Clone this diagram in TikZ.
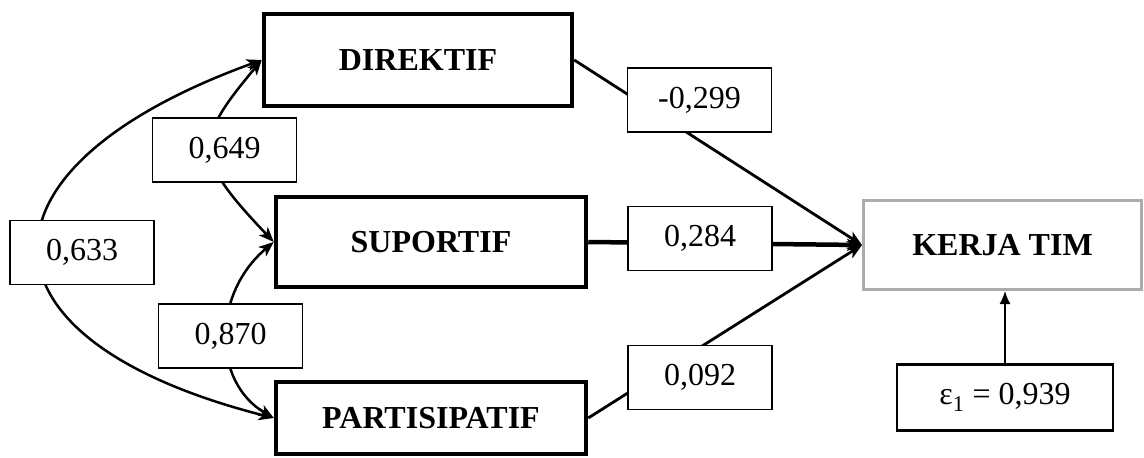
\documentclass[tikz,border=0pt]{standalone}
\usepackage{fontspec}
\setmainfont{Liberation Serif}
\usetikzlibrary{positioning, arrows.meta}
\tikzset{
>={Stealth[length=15pt, width=12pt, inset=4pt]}, % arrow heads of all paths
variabel/.style={draw, line width=4.5pt, inner sep=0pt, font=\fontsize{32}{38}\selectfont\bfseries}, % the three style boxes
koef/.style={draw, fill=white, line width=1.4pt, minimum width=144pt, minimum height=64pt, inner sep=0pt, font=\fontsize{32}{38}\selectfont}, % coefficient labels, drawn over the paths
jalur/.style={->, line width=2.8pt}, % direct paths to the outcome
korelasi/.style={<->, line width=2.5pt}, % correlations between the styles
}

\begin{document}
\begin{tikzpicture}[x=1pt, y=-1pt]
            \useasboundingbox (0,0) rectangle (1144,458);
            \node[variabel, minimum width=308pt, minimum height=92pt] (direktif) at (418,60) {DIREKTIF};
            \node[variabel, minimum width=310pt, minimum height=90pt] (suportif) at (431,242) {SUPORTIF};
            \node[variabel, minimum width=310pt, minimum height=72pt] (partisipatif) at (431,418) {PARTISIPATIF};
            \node[draw=gray!65, line width=3pt, inner sep=0pt, minimum width=278pt, minimum height=89pt, font=\fontsize{32}{38}\selectfont\bfseries] (kerja) at (1002.5,245) {KERJA TIM};
            \node[draw, line width=2.5pt, inner sep=0pt, minimum width=216pt, minimum height=66pt, font=\fontsize{32}{38}\selectfont, below=72pt of kerja, xshift=2.5pt] (galat) {ε\textsubscript{1} = 0,939};
            \draw
                (direktif.east) edge[jalur] (kerja.west)
                (suportif.east) edge[jalur, line width=4.5pt] (kerja.west)
                (partisipatif.east) edge[jalur] (kerja.west)
                ;
            \draw[-{Latex[length=13pt, width=11pt]}, line width=1.8pt] (galat.north) -- (galat.north |- kerja.south);
            \draw[korelasi] (direktif.west) .. controls (-36,168) and (-36,339) .. (partisipatif.west);
            \draw[korelasi] (direktif.west) .. controls (193,142) and (193,157) .. (suportif.west);
            \draw[korelasi] (suportif.west) .. controls (212,294) and (212,382) .. (partisipatif.west);
            \node[koef] (k299) at (699.5,100) {-0,299};
            \node[koef] (k284) at (700,238.5) {0,284};
            \node[koef] (k092) at (700,377.5) {0,092};
            \node[koef] (k649) at (224.5,150) {0,649};
            \node[koef] (k633) at (82,252.5) {0,633};
            \node[koef] (k870) at (230.5,336) {0,870};
        \end{tikzpicture}
\end{document}
